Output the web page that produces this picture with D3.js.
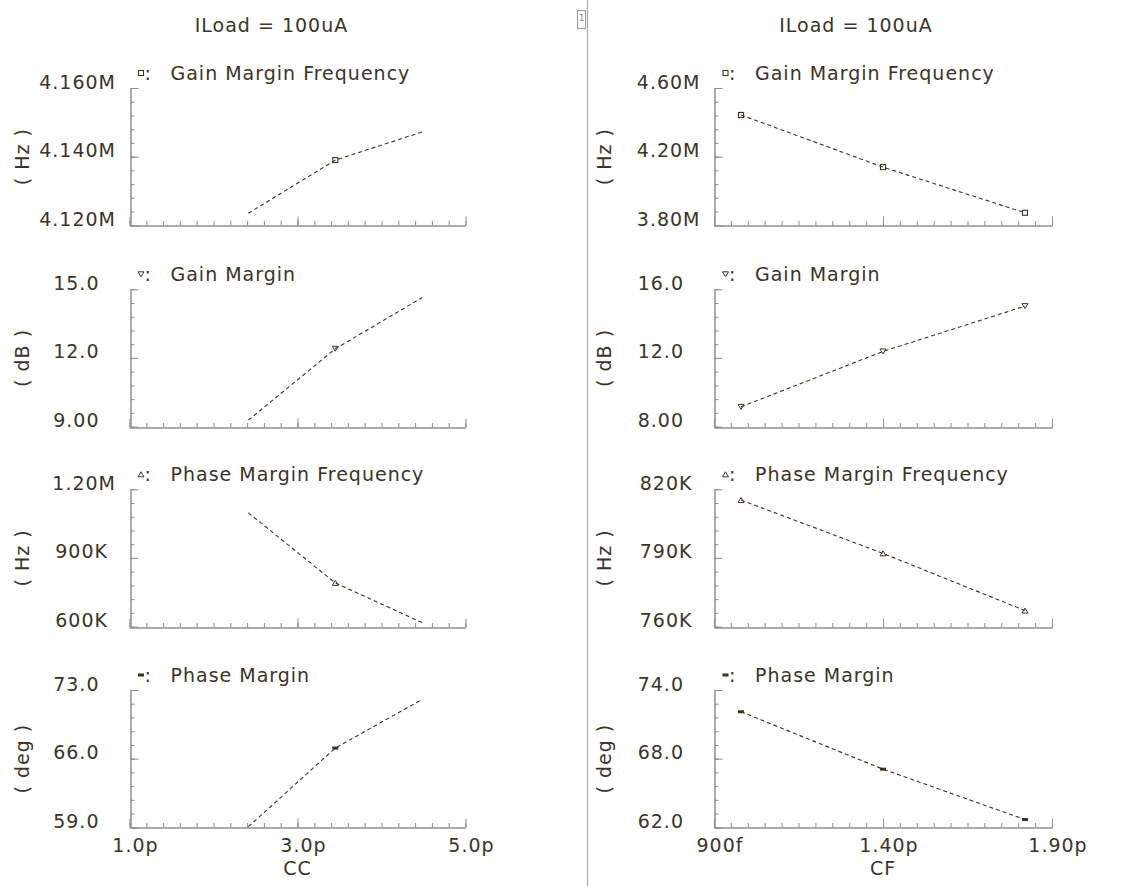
<!DOCTYPE html>
<html>
<head>
<meta charset="utf-8">
<script src="https://cdn.jsdelivr.net/npm/d3@7"></script>
<style>
  html, body { margin: 0; padding: 0; background: #ffffff; }
  svg { display: block; }
  text { font-family: 'DejaVu Sans', sans-serif; font-size: 19px; letter-spacing: 1px; fill: #3b3428; }
</style>
</head>
<body>
<svg id="chart" width="1130" height="886"></svg>
<script>
// ---- sweep values (farads) ----
const ccValues = [2.415e-12, 3.45e-12, 4.485e-12];
const cfValues = [0.98e-12, 1.40e-12, 1.82e-12];

// ---- x tick marks / labels ----
const ccTickValues = [1.0e-12, 3.0e-12, 5.0e-12];
const ccTickLabels = ["1.0p", "3.0p", "5.0p"];
const cfTickValues = [0.9e-12, 1.4e-12, 1.9e-12];
const cfTickLabels = ["900f", "1.40p", "1.90p"];

// ---- results vs CC ----
const ccGainMarginFreq  = [4.1235e6, 4.1390e6, 4.1472e6];
const ccGainMargin      = [9.28, 12.40, 14.64];
const ccPhaseMarginFreq = [1.097e6, 0.791e6, 0.617e6];
const ccPhaseMargin     = [59.06, 67.08, 72.05];

// ---- results vs CF ----
const cfGainMarginFreq  = [4.443e6, 4.139e6, 3.873e6];
const cfGainMargin      = [9.15, 12.38, 15.02];
const cfPhaseMarginFreq = [815.3e3, 792.0e3, 767.0e3];
const cfPhaseMargin     = [72.10, 67.08, 62.68];

// ---- y tick marks / labels ----
const ccGmfTicks = [4.12e6, 4.14e6, 4.16e6];   const ccGmfLabels = ["4.120M", "4.140M", "4.160M"];
const ccGmTicks  = [9, 12, 15];                 const ccGmLabels  = ["9.00", "12.0", "15.0"];
const ccPmfTicks = [600e3, 900e3, 1.2e6];       const ccPmfLabels = ["600K", "900K", "1.20M"];
const ccPmTicks  = [59, 66, 73];                const ccPmLabels  = ["59.0", "66.0", "73.0"];

const cfGmfTicks = [3.8e6, 4.2e6, 4.6e6];       const cfGmfLabels = ["3.80M", "4.20M", "4.60M"];
const cfGmTicks  = [8, 12, 16];                 const cfGmLabels  = ["8.00", "12.0", "16.0"];
const cfPmfTicks = [760e3, 790e3, 820e3];       const cfPmfLabels = ["760K", "790K", "820K"];
const cfPmTicks  = [62, 68, 74];                const cfPmLabels  = ["62.0", "68.0", "74.0"];

// ---- per-row text ----
const rowNames = ["Gain Margin Frequency", "Gain Margin", "Phase Margin Frequency", "Phase Margin"];
const rowUnits = ["( Hz )", "( dB )", "( Hz )", "( deg )"];
const titleText = "ILoad = 100uA";
const ccMarkerAt = [1];
const cfMarkerAt = [0, 1, 2];

// ---- layout ----
const ink = "#3b3325";
const axisGrey = "#8f8f8f";
const rowTop = [88, 289.3, 489.3, 690];
const rowH = 137.3;

const columns = [
  { left: 129.5, right: 465.5, unitX: 22, xName: "CC", xs: ccValues,
    xTicks: ccTickValues, xLabels: ccTickLabels, markerAt: ccMarkerAt,
    rows: [
      { ys: ccGainMarginFreq,  ticks: ccGmfTicks, labels: ccGmfLabels },
      { ys: ccGainMargin,      ticks: ccGmTicks,  labels: ccGmLabels },
      { ys: ccPhaseMarginFreq, ticks: ccPmfTicks, labels: ccPmfLabels },
      { ys: ccPhaseMargin,     ticks: ccPmTicks,  labels: ccPmLabels }
    ] },
  { left: 714, right: 1052, unitX: 603.5, xName: "CF", xs: cfValues,
    xTicks: cfTickValues, xLabels: cfTickLabels, markerAt: cfMarkerAt,
    rows: [
      { ys: cfGainMarginFreq,  ticks: cfGmfTicks, labels: cfGmfLabels },
      { ys: cfGainMargin,      ticks: cfGmTicks,  labels: cfGmLabels },
      { ys: cfPhaseMarginFreq, ticks: cfPmfTicks, labels: cfPmfLabels },
      { ys: cfPhaseMargin,     ticks: cfPmTicks,  labels: cfPmLabels }
    ] }
];

const svg = d3.select("#chart");

// symbol painters for each row
function drawMarker(g, row, x, y) {
  if (row === 0) {
    g.append("rect").attr("x", x - 2.5).attr("y", y - 2.5).attr("width", 5).attr("height", 5)
      .attr("fill", "none").attr("stroke", ink).attr("stroke-width", 1.1);
  } else if (row === 1) {
    g.append("path").attr("d", `M${x - 3},${y - 2.5}L${x + 3},${y - 2.5}L${x},${y + 2.5}Z`)
      .attr("fill", "none").attr("stroke", ink).attr("stroke-width", 1);
  } else if (row === 2) {
    g.append("path").attr("d", `M${x - 3},${y + 2.5}L${x + 3},${y + 2.5}L${x},${y - 2.5}Z`)
      .attr("fill", "none").attr("stroke", ink).attr("stroke-width", 1);
  } else {
    g.append("rect").attr("x", x - 3).attr("y", y - 1.5).attr("width", 6).attr("height", 3)
      .attr("fill", ink);
  }
}

function subdivide(majors, parts) {
  const out = [];
  for (let i = 0; i < majors.length - 1; i++) {
    const step = (majors[i + 1] - majors[i]) / parts;
    for (let k = 0; k <= parts; k++) out.push(majors[i] + k * step);
  }
  return out;
}

// vertical divider and page tag
svg.append("line").attr("x1", 587.5).attr("x2", 587.5).attr("y1", 0).attr("y2", 886)
  .attr("stroke", "#a8a8a8").attr("stroke-width", 1.2);
svg.append("rect").attr("x", 577.5).attr("y", 10.5).attr("width", 8).attr("height", 18)
  .attr("fill", "none").attr("stroke", "#9a9a9a").attr("stroke-width", 1);
svg.append("text").attr("x", 581.5).attr("y", 21).attr("text-anchor", "middle")
  .style("font-size", "9px").style("letter-spacing", "0px").style("fill", "#8a8a8a").text("1");

columns.forEach(col => {
  const x = d3.scaleLinear().domain([col.xTicks[0], col.xTicks[col.xTicks.length - 1]])
    .range([col.left, col.right]);

  // title
  svg.append("text").attr("x", col.left + 142).attr("y", 31.5).attr("text-anchor", "middle")
    .text(titleText);

  col.rows.forEach((r, i) => {
    const top = rowTop[i], bottom = top + rowH;
    const y = d3.scaleLinear().domain([r.ticks[0], r.ticks[r.ticks.length - 1]]).range([bottom, top]);
    const g = svg.append("g");

    // y axis: minor then major ticks, drawn inward
    const yMinor = d3.axisLeft(y).tickValues(subdivide(r.ticks, 5)).tickSize(-4).tickSizeOuter(0).tickFormat("");
    const yMajor = d3.axisLeft(y).tickValues(r.ticks).tickSize(-8).tickSizeOuter(0).tickFormat("");
    [yMinor, yMajor].forEach(ax => {
      const a = g.append("g").attr("transform", `translate(${Math.round(col.left) + 0.5},0)`).call(ax);
      a.selectAll("path, line").attr("stroke", axisGrey).attr("stroke-width", 1);
    });

    // x axis: minor then major ticks, pointing up
    const xMinor = d3.axisBottom(x).tickValues(subdivide(col.xTicks, 10)).tickSize(-4.5).tickSizeOuter(0).tickFormat("");
    const xMajor = d3.axisBottom(x).tickValues(col.xTicks).tickSize(-9).tickSizeOuter(0).tickFormat("");
    [xMinor, xMajor].forEach(ax => {
      const a = g.append("g").attr("transform", `translate(0,${Math.round(bottom) + 0.5})`).call(ax);
      a.selectAll("path, line").attr("stroke", axisGrey).attr("stroke-width", 1);
    });

    // y tick labels (baseline on the tick)
    r.labels.forEach((lab, k) => {
      const last = lab[lab.length - 1];
      const gap = last === "M" ? 13.5 : last === "K" ? 21.5 : 30;
      g.append("text").attr("x", col.left - gap).attr("y", y(r.ticks[k]) + 0.5)
        .attr("text-anchor", "end").text(lab);
    });

    // unit label
    const cy = (top + bottom) / 2;
    g.append("text").attr("transform", `translate(${col.unitX},${cy}) rotate(-90)`)
      .attr("text-anchor", "middle").attr("dominant-baseline", "central").text(rowUnits[i]);

    // legend
    drawMarker(g, i, col.left + 11.5, top - 15);
    const lt = g.append("text").attr("y", top - 8.5);
    lt.append("tspan").attr("x", col.left + 15).text(":");
    lt.append("tspan").attr("x", col.left + 41).text(rowNames[i]);

    // data line
    const pts = col.xs.map((v, k) => [v, r.ys[k]]);
    g.append("path").datum(pts)
      .attr("d", d3.line().x(d => x(d[0])).y(d => y(d[1])))
      .attr("fill", "none").attr("stroke", ink).attr("stroke-width", 1.1)
      .attr("stroke-dasharray", "4,3");
    col.markerAt.forEach(k => drawMarker(g, i, x(col.xs[k]), y(r.ys[k])));

    // x labels on bottom row only
    if (i === rowTop.length - 1) {
      col.xLabels.forEach((lab, k) => {
        g.append("text").attr("x", x(col.xTicks[k]) + 6).attr("y", bottom + 24.5)
          .attr("text-anchor", "middle").text(lab);
      });
      g.append("text").attr("x", (col.left + col.right) / 2).attr("y", 875)
        .attr("text-anchor", "middle").text(col.xName);
    }
  });
});
</script>
</body>
</html>
